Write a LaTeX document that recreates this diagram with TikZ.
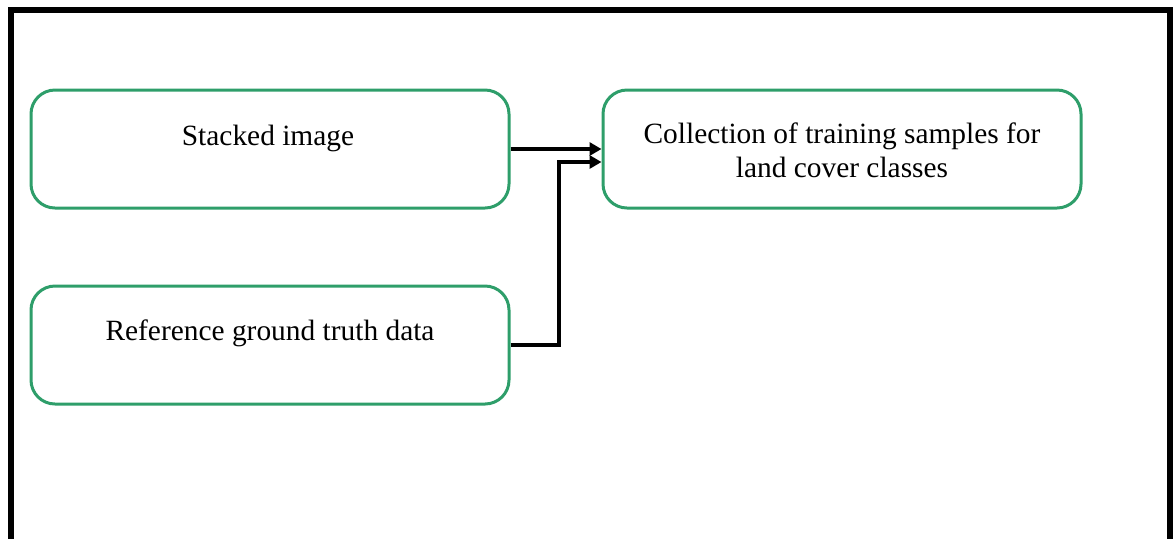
\documentclass[tikz,border=0pt]{standalone}
\usepackage{fontspec}
\setmainfont{Liberation Serif}
\usepackage{tikz}
\usetikzlibrary{arrows.meta}
\definecolor{boxgreen}{RGB}{46,158,106}

\tikzset{
	stepbox/.style={draw=boxgreen, line width=1.5pt, rounded corners=12pt, minimum width=239pt, minimum height=59pt},
	boxtext/.style={font=\fontsize{14.7}{17.2}\selectfont, align=center},
	link/.style={line width=1.6pt, -{Triangle[length=6pt,width=6.5pt]}}
}

\begin{document}
\begin{tikzpicture}[x=0.5pt, y=-0.5pt]
		\useasboundingbox (0,0) rectangle (1176,538);
		\draw [line width=3pt] (11,560) -- (11,10) -- (1170,10) -- (1170,560);

		\node [stepbox] (stacked) at (270,149) {};
		\node [stepbox] (reference) at (270,345) {};
		\node [stepbox] (collection) at (842,149) {};

		\node [boxtext] (stackedtext) at (268,138) {Stacked image};
		\node [boxtext] (referencetext) at (270,333) {Reference ground truth data};
		\node [boxtext] (collectiontext) at (842,150) {Collection of training samples for\\land cover classes};

		\draw [link] (stacked) -- (collection);

		\coordinate (bend) at (559,162);
		\draw [link] (reference.east) -| (bend) -- (bend -| collection.west);
	\end{tikzpicture}
\end{document}
